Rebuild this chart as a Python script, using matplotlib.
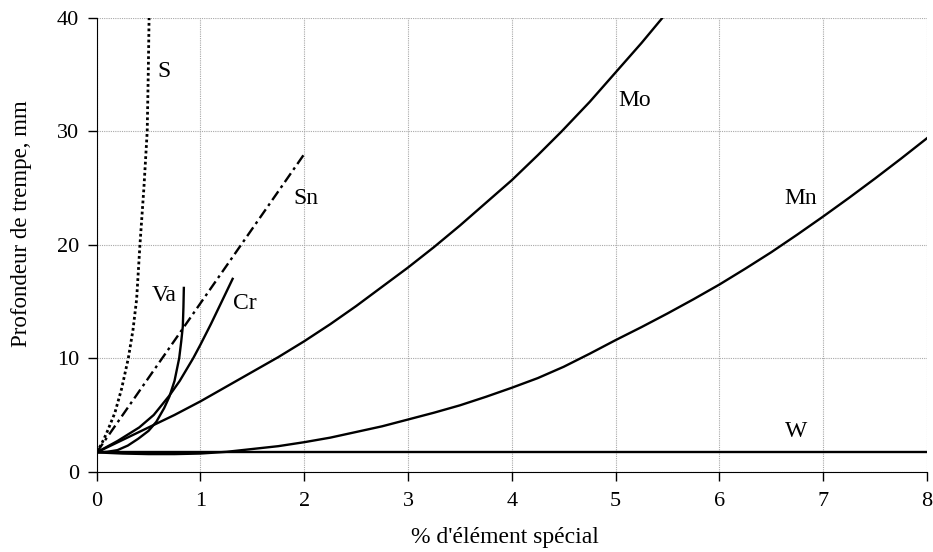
import matplotlib
matplotlib.use("Agg")
import matplotlib.pyplot as plt

plt.rcParams['font.family'] = ['Liberation Serif', 'DejaVu Serif']

# courbes (x = % d'élément, y = profondeur en mm)
s_x = [0, 0.05, 0.096, 0.176, 0.24, 0.305, 0.35, 0.385, 0.417, 0.455, 0.487, 0.497, 0.505]
s_y = [1.7, 2.5, 3.4, 5.2, 7.3, 10, 12.5, 15.2, 20, 25, 30, 35, 40]

sn_x = [0, 2.0]
sn_y = [1.7, 28.0]

va_x = [0, 0.1, 0.2, 0.3, 0.4, 0.5, 0.575, 0.65, 0.7, 0.75, 0.795, 0.815, 0.83, 0.836, 0.84]
va_y = [1.7, 1.75, 1.9, 2.3, 2.9, 3.6, 4.4, 5.6, 6.6, 8.0, 10, 11.5, 12.8, 14.5, 16.2]

cr_x = [0, 0.2, 0.41, 0.55, 0.7, 0.8, 0.93, 1.0, 1.1, 1.2, 1.31]
cr_y = [1.7, 2.7, 3.9, 5.0, 6.7, 8.0, 10, 11.2, 13.0, 14.9, 17.0]

mo_x = [0, 0.25, 0.5, 0.75, 1, 1.25, 1.5, 1.75, 2, 2.25, 2.5, 2.75, 3, 3.25, 3.5,
        3.75, 4, 4.25, 4.48, 4.75, 5, 5.25, 5.45]
mo_y = [1.7, 2.8, 3.9, 5.0, 6.2, 7.5, 8.8, 10.1, 11.5, 13.0, 14.6, 16.3, 18, 19.8, 21.7,
        23.7, 25.7, 27.9, 30, 32.6, 35.2, 37.8, 40]

mn_x = [0, 0.25, 0.5, 0.75, 1, 1.25, 1.5, 1.75, 2, 2.25, 2.5, 2.75, 3, 3.25, 3.5, 3.75,
        4, 4.25, 4.5, 4.75, 5, 5.25, 5.5, 5.75, 6, 6.25, 6.5, 6.75, 7, 7.25, 7.5, 7.75, 8]
mn_y = [1.7, 1.6, 1.55, 1.55, 1.6, 1.75, 2.0, 2.25, 2.6, 3.0, 3.5, 4.0, 4.6, 5.2, 5.85, 6.6,
        7.4, 8.25, 9.25, 10.4, 11.6, 12.75, 13.95, 15.2, 16.5, 17.9, 19.35, 20.9, 22.5, 24.15,
        25.85, 27.6, 29.4]

w_x = [0, 8]
w_y = [1.7, 1.7]

# étiquettes des courbes
labels = ["S", "Sn", "Va", "Cr", "Mo", "Mn", "W"]
label_x = [0.65, 2.02, 0.65, 1.43, 5.18, 6.78, 6.74]
label_y = [35.3, 24.1, 15.5, 14.85, 32.7, 24.1, 3.5]

fig = plt.figure(figsize=(9.33, 5.52), dpi=100)
ax = fig.add_axes([0.1036, 0.1455, 0.89, 0.822])

lw = 1.7
ax.plot(s_x, s_y, color='black', lw=2.0, linestyle=(0, (1, 1)))
ax.plot(sn_x, sn_y, color='black', lw=lw, linestyle=(0, (4.5, 1.8, 1.2, 1.8)))
ax.plot(va_x, va_y, color='black', lw=lw)
ax.plot(cr_x, cr_y, color='black', lw=lw)
ax.plot(mo_x, mo_y, color='black', lw=lw)
ax.plot(mn_x, mn_y, color='black', lw=lw)
ax.plot(w_x, w_y, color='black', lw=lw)

for t, x, y in zip(labels, label_x, label_y):
    ax.text(x, y, t, ha='center', va='center', fontsize=17)

ax.set_xlim(0, 8)
ax.set_ylim(0, 40)
ax.set_xticks(range(0, 9))
ax.set_yticks(range(0, 41, 10))
ax.grid(True, color='#a8a8a8', linestyle=(0, (1, 1)), linewidth=0.8)
ax.set_axisbelow(True)
for side in ['top', 'right']:
    ax.spines[side].set_visible(False)
ax.tick_params(direction='out', length=6.5, width=1, labelsize=16)
ax.tick_params(axis='x', pad=8)
ax.tick_params(axis='y', pad=6)

fig.text(505 / 933, 1 - 537 / 552, "% d'élément spécial", fontsize=17,
         ha='center', va='center')
fig.text(22 / 933, 1 - 224 / 552, "Profondeur de trempe, mm", fontsize=16.5,
         ha='center', va='center', rotation=90)

fig.savefig("out.png", dpi=100)
